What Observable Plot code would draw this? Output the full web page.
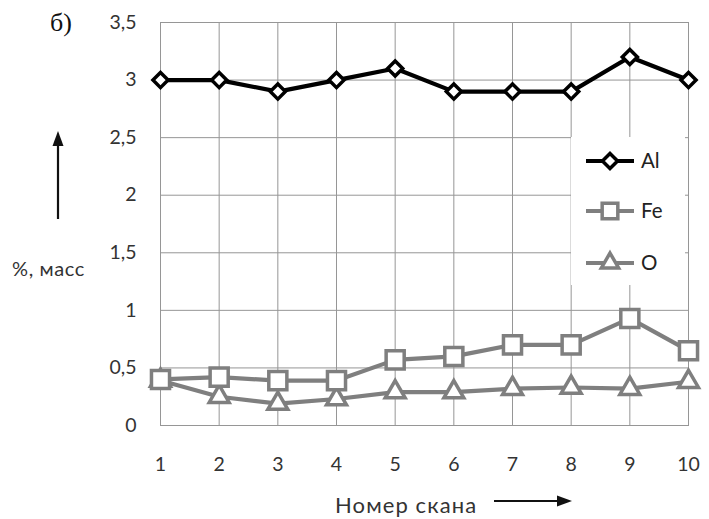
<!DOCTYPE html>
<html><head><meta charset="utf-8">
<script src="https://cdn.jsdelivr.net/npm/d3@7"></script>
<script src="https://cdn.jsdelivr.net/npm/@observablehq/plot@0.6"></script>
<style>
html,body{margin:0;padding:0;background:#fff;}
#wrap{position:relative;width:709px;height:519px;overflow:hidden;font-family:Lato,"Open Sans",sans-serif;}
#wrap svg.plot{position:absolute;left:0;top:0;}
.lbl{position:absolute;white-space:nowrap;color:#333;line-height:1;}
</style>
</head><body>
<div id="wrap"></div>
<script>
const scans = [1,2,3,4,5,6,7,8,9,10];
const al = [3.0,3.0,2.9,3.0,3.1,2.9,2.9,2.9,3.2,3.0];
const fe = [0.40,0.42,0.39,0.39,0.57,0.60,0.70,0.70,0.93,0.65];
const ox = [0.39,0.25,0.19,0.23,0.29,0.29,0.32,0.33,0.32,0.38];
const seriesNames = ["Al","Fe","O"];
const yTicks = [0,0.5,1,1.5,2,2.5,3,3.5];
const xTicks = scans;
const yLabel = "%, масс";
const xLabel = "Номер скана";
const panelLabel = "б)";

const colors = {Al:"#000000", Fe:"#7f7f7f", O:"#7f7f7f"};
const symbols = {Al:"diamond2", Fe:"square2", O:"triangle2"};
const radii = {Al:6.8, Fe:11.5, O:9.5};
const vals = {Al:al, Fe:fe, O:ox};

const rows = seriesNames.flatMap(s => scans.map((x,i)=>({series:s, x, y:vals[s][i]})));

const marks = [
  Plot.gridY(yTicks, {stroke:"#969696", strokeOpacity:1, strokeWidth:1}),
  Plot.gridX(xTicks, {stroke:"#969696", strokeOpacity:1, strokeWidth:1}),
  Plot.frame({stroke:"#969696", strokeWidth:1}),
  Plot.axisY(yTicks, {tickSize:0, tickPadding:24, tickFormat:d=>String(d).replace(".",", ").replace(", ", ","), fontSize:19.5, label:null, fill:"#333"}),
  Plot.axisX(xTicks, {tickSize:0, tickPadding:32, tickFormat:d=>String(d), fontSize:19.5, label:null, fill:"#333"})
];
for (const s of ["O","Fe","Al"]) {
  const d = rows.filter(r=>r.series===s);
  marks.push(Plot.line(d, {x:"x", y:"y", stroke:colors[s], strokeWidth:4.2}));
  marks.push(Plot.dot(d, {x:"x", y:"y", symbol:()=>symbols[s], r:radii[s], fill:"white", stroke:colors[s], strokeWidth:3.5}));
}

const chart = Plot.plot({
  width:709, height:519,
  marginLeft:160, marginRight:21, marginTop:22, marginBottom:94,
  x:{domain:[1,10]},
  y:{domain:[0,3.5]},
  symbol:{type:"identity"},
  style:{fontFamily:"Lato, 'Open Sans', sans-serif", fontSize:"19.5px", background:"white", overflow:"visible"},
  marks
});
chart.classList.add("plot");
const wrap = document.getElementById("wrap");
wrap.appendChild(chart);

function addLabel(text, left, top, css){
  const d = document.createElement("div");
  d.className="lbl"; d.textContent=text;
  d.style.left=left+"px"; d.style.top=top+"px";
  Object.assign(d.style, css||{});
  wrap.appendChild(d);
  return d;
}
addLabel(panelLabel, 50, 10, {fontFamily:"'Liberation Serif','DejaVu Serif',serif", fontSize:"26px", color:"#111"});
addLabel(yLabel, 12, 258, {fontSize:"20px", letterSpacing:"0.6px", color:"#333"});
addLabel(xLabel, 335, 494, {fontSize:"22px", letterSpacing:"1.1px", color:"#333"});

// decorative arrows and in-plot legend
const ov = d3.select(wrap).append("svg").attr("width",709).attr("height",519)
  .style("position","absolute").style("left","0").style("top","0").style("pointer-events","none");
ov.append("line").attr("x1",58).attr("y1",219).attr("x2",58).attr("y2",140).attr("stroke","#111").attr("stroke-width",2.2);
ov.append("path").attr("d","M58,131 L52.5,146 L63.5,146 Z").attr("fill","#111");
ov.append("line").attr("x1",494).attr("y1",501).attr("x2",562).attr("y2",501).attr("stroke","#111").attr("stroke-width",2.2);
ov.append("path").attr("d","M572,501 L557,495.5 L557,506.5 Z").attr("fill","#111");

const lg = ov.append("g");
lg.append("rect").attr("x",571).attr("y",137).attr("width",114).attr("height",148).attr("fill","white");
const legY = {Al:161, Fe:211, O:263};
const symGen = {Al:d3.symbolDiamond2, Fe:d3.symbolSquare2, O:d3.symbolTriangle2};
for (const s of seriesNames){
  const y = legY[s];
  lg.append("line").attr("x1",586).attr("x2",634).attr("y1",y).attr("y2",y).attr("stroke",colors[s]).attr("stroke-width",4.2);
  const size = Math.PI*radii[s]*radii[s]*(s==="Al"?1:0.75);
  lg.append("path").attr("d", d3.symbol(symGen[s], size)()).attr("transform",`translate(610,${y})`)
    .attr("fill","white").attr("stroke",colors[s]).attr("stroke-width",3.5);
  lg.append("text").attr("x",641).attr("y",y).attr("dy","0.36em").attr("font-size",20.5)
    .attr("font-family","Lato, 'Open Sans', sans-serif").attr("fill","#222").text(s);
}
</script>
</body></html>
